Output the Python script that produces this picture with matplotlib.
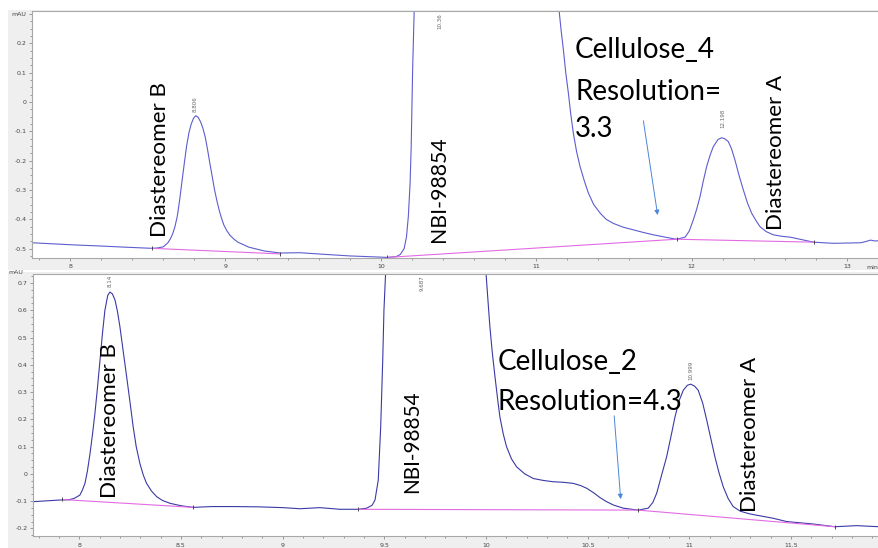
import numpy as np
import matplotlib
matplotlib.use('agg')
import matplotlib.pyplot as plt
import matplotlib.ticker as ticker
from matplotlib.patches import Rectangle

# ---- data (time in min, signal in mAU) ----
nan = float('nan')

top_t = [7.755, 7.90, 8.05, 8.193, 8.35, 8.526, 8.56, 8.60, 8.63, 8.645, 8.66, 8.675,
         8.69, 8.705, 8.72, 8.735, 8.75, 8.765, 8.78, 8.795, 8.809, 8.825, 8.84, 8.855,
         8.87, 8.885, 8.90, 8.915, 8.93, 8.945, 8.96, 8.975, 8.99, 9.01, 9.03, 9.055,
         9.08, 9.15, 9.25, 9.352, 9.48, 9.65, 9.802, 9.95, 10.042, 10.10, 10.125, 10.15,
         10.165, 10.177, 10.188, 10.195, 10.205, 10.214, 10.22, nan,
         11.14, 11.149, 11.16, 11.175, 11.19, 11.207, 11.222, 11.239, 11.26, 11.282,
         11.31, 11.336, 11.37, 11.413, 11.45, 11.496, 11.56, 11.625, 11.69, 11.754,
         11.85, 11.904, 11.958, 11.985, 12.011, 12.033, 12.054, 12.075, 12.097, 12.12,
         12.14, 12.17, 12.194, 12.215, 12.236, 12.257, 12.279, 12.305, 12.333, 12.36,
         12.387, 12.415, 12.44, 12.48, 12.526, 12.58, 12.635, 12.785, 12.914, 13.088,
         13.12, 13.152, 13.18, 13.21]
top_v = [-0.48, -0.484, -0.488, -0.491, -0.495, -0.499, -0.498, -0.494, -0.48, -0.467,
         -0.45, -0.425, -0.39, -0.335, -0.272, -0.21, -0.15, -0.105, -0.075, -0.055,
         -0.047, -0.053, -0.068, -0.09, -0.12, -0.163, -0.21, -0.255, -0.30, -0.337,
         -0.37, -0.397, -0.42, -0.44, -0.455, -0.468, -0.478, -0.495, -0.508, -0.515,
         -0.514, -0.52, -0.525, -0.528, -0.53, -0.527, -0.52, -0.50, -0.46, -0.39,
         -0.28, -0.16, 0.12, 0.30, 0.45, nan,
         0.45, 0.302, 0.245, 0.177, 0.10, 0.03, -0.04, -0.107, -0.17, -0.22,
         -0.27, -0.311, -0.35, -0.38, -0.40, -0.414, -0.427, -0.436, -0.445, -0.453,
         -0.463, -0.468, -0.461, -0.44, -0.402, -0.365, -0.323, -0.27, -0.22, -0.18,
         -0.152, -0.128, -0.122, -0.126, -0.135, -0.16, -0.198, -0.25, -0.30, -0.345,
         -0.38, -0.405, -0.425, -0.442, -0.453, -0.458, -0.461, -0.478, -0.482, -0.48,
         -0.476, -0.471, -0.474, -0.473]

top_base_t = [[8.526, 9.352], [10.042, 11.904, 12.785]]
top_base_v = [[-0.499, -0.518], [-0.53, -0.468, -0.478]]

bot_t = [7.774, 7.905, 7.95, 7.975, 8.003, 8.015, 8.028, 8.04, 8.053, 8.065, 8.077,
         8.09, 8.102, 8.114, 8.126, 8.14, 8.151, 8.163, 8.176, 8.188, 8.20, 8.216,
         8.233, 8.25, 8.265, 8.28, 8.298, 8.315, 8.331, 8.355, 8.381, 8.41, 8.446,
         8.50, 8.561, 8.65, 8.757, 8.88, 9.003, 9.085, 9.183, 9.282, 9.372, 9.413,
         9.44, 9.454, 9.47, 9.482, 9.492, 9.498, 9.506, 9.51, nan,
         9.995, 10.0, 10.01, 10.019, 10.03, 10.044, 10.056, 10.068, 10.085, 10.101,
         10.125, 10.15, 10.19, 10.232, 10.28, 10.33, 10.38, 10.429, 10.465, 10.495,
         10.53, 10.56, 10.59, 10.625, 10.675, 10.748, 10.797, 10.82, 10.839, 10.863,
         10.888, 10.91, 10.929, 10.95, 10.97, 10.99, 11.006, 11.025, 11.043, 11.065,
         11.085, 11.105, 11.125, 11.145, 11.166, 11.19, 11.215, 11.25, 11.297, 11.412,
         11.478, 11.609, 11.715, 11.822, 11.932]
bot_v = [-0.102, -0.096, -0.095, -0.09, -0.078, -0.06, -0.035, 0.01, 0.075, 0.145, 0.222,
         0.32, 0.417, 0.515, 0.60, 0.655, 0.667, 0.66, 0.637, 0.595, 0.539, 0.45,
         0.356, 0.26, 0.173, 0.10, 0.038, -0.005, -0.035, -0.063, -0.084, -0.098, -0.108,
         -0.117, -0.123, -0.12, -0.12, -0.121, -0.124, -0.128, -0.124, -0.13, -0.13, -0.126,
         -0.115, -0.096, -0.023, 0.173, 0.417, 0.60, 0.734, 0.85, nan,
         0.85, 0.734, 0.63, 0.539, 0.45, 0.356, 0.28, 0.209, 0.145, 0.099,
         0.055, 0.026, 0.0, -0.017, -0.024, -0.029, -0.031, -0.035, -0.043, -0.053,
         -0.07, -0.087, -0.101, -0.114, -0.126, -0.133, -0.126, -0.105, -0.071, -0.005,
         0.063, 0.14, 0.209, 0.27, 0.307, 0.325, 0.329, 0.322, 0.307, 0.26,
         0.197, 0.13, 0.063, 0.005, -0.047, -0.09, -0.12, -0.137, -0.147, -0.163,
         -0.175, -0.184, -0.194, -0.19, -0.194]

bot_base_t = [[7.913, 8.561], [9.372, 10.748, 11.715]]
bot_base_v = [[-0.094, -0.123], [-0.13, -0.133, -0.194]]

top_rt = ['8.806', '10.36', '12.198']
bot_rt = ['8.14', '9.687', '10.999']

W, H = 879, 548
fig = plt.figure(figsize=(W / 100, H / 100), dpi=100)
fig.patch.set_facecolor('white')

def fx(px):
    return px / W

def fy(py):
    return 1 - py / H

# grey instrument-style frames behind each panel
fig.patches.append(Rectangle((fx(8), fy(270.5)), fx(871), 260.5 / H, transform=fig.transFigure,
                             facecolor='#efefef', edgecolor='none', zorder=-5))
fig.patches.append(Rectangle((fx(8), 0), fx(871), fy(272), transform=fig.transFigure,
                             facecolor='#efefef', edgecolor='none', zorder=-5))

ax1 = fig.add_axes([fx(32), fy(258), 1 - fx(32), (258 - 11) / H])
ax2 = fig.add_axes([fx(33.3), fy(536), 1 - fx(33.3), (536 - 273.5) / H])

trace_top = '#5d5dcf'
trace_bot = '#3a3aa6'
base_col = '#e36ae3'
arrow_col = '#4a86d8'
label_font = ['Lato', 'DejaVu Sans']

for ax in (ax1, ax2):
    ax.set_facecolor('white')
    for s in ax.spines.values():
        s.set_color('#a8a8a8')
        s.set_linewidth(0.8)
    ax.tick_params(which='both', colors='#8a8a8a', labelcolor='#444444', labelsize=4.5,
                   direction='out', width=0.6)
    ax.tick_params(which='major', length=2.5, pad=1.5)
    ax.tick_params(which='minor', length=1.5)

# ---- top panel ----
ax1.plot(top_t, top_v, color=trace_top, lw=0.8)
for bt, bv in zip(top_base_t, top_base_v):
    ax1.plot(bt, bv, color=base_col, lw=0.8)
    ax1.plot(bt, bv, ls='none', marker='|', ms=2.5, mew=0.6, color='#333333')
ax1.set_xlim(7.755, 13.206)
ax1.set_ylim(-0.532, 0.31)
ax1.xaxis.set_major_locator(ticker.MultipleLocator(1))
ax1.xaxis.set_minor_locator(ticker.MultipleLocator(0.2))
ax1.yaxis.set_major_locator(ticker.FixedLocator([-0.5, -0.4, -0.3, -0.2, -0.1, 0, 0.1, 0.2, 0.3]))
ax1.yaxis.set_major_formatter(ticker.FixedFormatter(['-0.5', '-0.4', '-0.3', '-0.2', '-0.1', '0', '0.1', '0.2', 'mAU']))
ax1.yaxis.set_minor_locator(ticker.MultipleLocator(0.025))
ax1.xaxis.set_major_formatter(ticker.FuncFormatter(lambda v, p: '%d' % v))
ax1.text(0.999, -0.028, 'min', transform=ax1.transAxes, fontsize=4.5, color='#444444',
         ha='right', va='top')

ax1.text(8.806, -0.035, top_rt[0], rotation=90, fontsize=4, color='#666666', ha='center', va='bottom')
ax1.text(10.381, 0.303, top_rt[1], rotation=90, fontsize=4, color='#666666', ha='center', va='top')
ax1.text(12.198, -0.09, top_rt[2], rotation=90, fontsize=4, color='#666666', ha='center', va='bottom')

lab = []
lab.append((ax1.text(8.579, -0.46, 'Diastereomer B', rotation=90, ha='center', va='bottom',
                     family=label_font, fontsize=17), 155))
lab.append((ax1.text(10.375, -0.477, 'NBI-98854', rotation=90, ha='center', va='bottom',
                     family=label_font, fontsize=17), 105))
lab.append((ax1.text(12.543, -0.436, 'Diastereomer A', rotation=90, ha='center', va='bottom',
                     family=label_font, fontsize=17), 155))
c4 = ax1.text(11.25, 0.15, 'Cellulose_4', ha='left', va='baseline', family=label_font, fontsize=21)
lab.append((c4, 140))
ax1.text(11.25, 0.007, 'Resolution=', ha='left', va='baseline', family=label_font, fontsize=21)
ax1.text(11.25, -0.119, '3.3', ha='left', va='baseline', family=label_font, fontsize=21)
ax1.annotate('', xy=(11.784, -0.395), xytext=(11.687, -0.055),
             arrowprops=dict(arrowstyle='-|>', color=arrow_col, lw=0.7, mutation_scale=7))

# ---- bottom panel ----
ax2.plot(bot_t, bot_v, color=trace_bot, lw=0.8)
for bt, bv in zip(bot_base_t, bot_base_v):
    ax2.plot(bt, bv, color=base_col, lw=0.8)
    ax2.plot(bt, bv, ls='none', marker='|', ms=2.5, mew=0.6, color='#333333')
ax2.set_xlim(7.774, 11.932)
ax2.set_ylim(-0.228, 0.735)
ax2.xaxis.set_major_locator(ticker.MultipleLocator(0.5))
ax2.xaxis.set_minor_locator(ticker.MultipleLocator(0.1))
ax2.yaxis.set_major_locator(ticker.MultipleLocator(0.1))
ax2.yaxis.set_minor_locator(ticker.MultipleLocator(0.025))
ax2.xaxis.set_major_formatter(ticker.FuncFormatter(lambda v, p: ('%g' % v)))
ax2.yaxis.set_major_formatter(ticker.FuncFormatter(lambda v, p: ('%g' % round(v, 2))))
ax2.tick_params(axis='x', which='major', pad=2.5)
fig.text(fx(23), fy(272), 'mAU', fontsize=4.5, color='#444444', ha='right', va='center')

ax2.text(8.151, 0.685, bot_rt[0], rotation=90, fontsize=4, color='#666666', ha='center', va='bottom',
         clip_on=False)
ax2.text(9.688, 0.729, bot_rt[1], rotation=90, fontsize=4, color='#666666', ha='center', va='top')
ax2.text(11.006, 0.344, bot_rt[2], rotation=90, fontsize=4, color='#666666', ha='center', va='bottom')

lab.append((ax2.text(8.151, -0.089, 'Diastereomer B', rotation=90, ha='center', va='bottom',
                     family=label_font, fontsize=17), 155))
lab.append((ax2.text(9.636, -0.070, 'NBI-98854', rotation=90, ha='center', va='bottom',
                     family=label_font, fontsize=17), 103))
lab.append((ax2.text(11.297, -0.140, 'Diastereomer A', rotation=90, ha='center', va='bottom',
                     family=label_font, fontsize=17), 155))
c2 = ax2.text(10.058, 0.381, 'Cellulose_2', ha='left', va='baseline', family=label_font, fontsize=21)
r2 = ax2.text(10.058, 0.234, 'Resolution=4.3', ha='left', va='baseline', family=label_font, fontsize=21)
ax2.annotate('', xy=(10.663, -0.103), xytext=(10.629, 0.223),
             arrowprops=dict(arrowstyle='-|>', color=arrow_col, lw=0.7, mutation_scale=7))

# scale the big labels so their printed length matches the reference
fig.canvas.draw()
rend = fig.canvas.get_renderer()
for t, target in lab:
    bb = t.get_window_extent(rend)
    cur = max(bb.width, bb.height) if t.get_rotation() == 90 else bb.width
    t.set_fontsize(t.get_fontsize() * target / cur)
big = c4.get_fontsize()
for t in ax1.texts + ax2.texts:
    if t.get_rotation() == 0 and t.get_fontsize() > 10:
        t.set_fontsize(big)

plt.savefig('out.png', dpi=100, facecolor='white')
